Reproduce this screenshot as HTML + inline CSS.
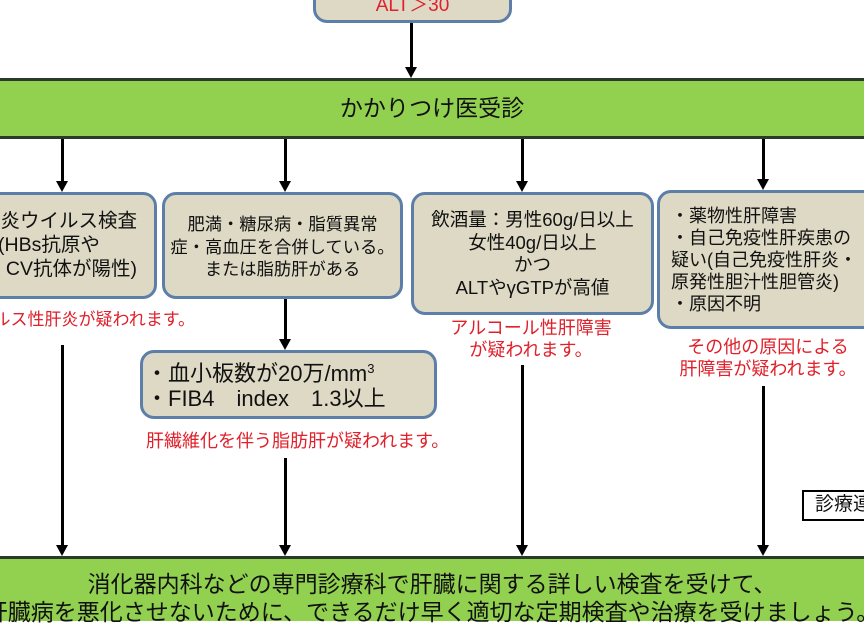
<!DOCTYPE html>
<html><head><meta charset="utf-8"><style>
body{margin:0;width:864px;height:621px;overflow:hidden;background:#fff;position:relative;font-family:"Liberation Sans","Noto Sans CJK JP",sans-serif;}
div{position:absolute;box-sizing:border-box;}
.box{background:#ddd9c4;border:3px solid #5d7ea8;border-radius:14px;}
.t{white-space:nowrap;text-align:center;color:#111;}
.r{color:#e0202a;}
.v{width:3px;background:#000;}
.ah{width:0;height:0;border-left:6px solid transparent;border-right:6px solid transparent;border-top:11px solid #000;}
.g{background:#92d050;left:0;width:864px;}
</style></head><body>
<div class="box" style="left:313px;top:-20px;width:199px;height:43px;"></div>
<div class="t r" style="left:313px;width:199px;top:-6px;font-size:19px;line-height:24px;">ALT＞30</div>
<div class="v" style="left:410px;top:23px;height:45px;"></div><div class="ah" style="left:405px;top:67px;"></div>

<div class="g" style="top:78px;height:61px;border-top:3px solid #2b3b2b;border-bottom:3px solid #2b3b2b;"></div>
<div class="t" style="left:0;width:864px;top:93px;font-size:23px;line-height:30px;">かかりつけ医受診</div>

<div class="v" style="left:61px;top:139px;height:42px;"></div><div class="ah" style="left:56px;top:181px;"></div>
<div class="v" style="left:284px;top:139px;height:42px;"></div><div class="ah" style="left:279px;top:181px;"></div>
<div class="v" style="left:521px;top:139px;height:42px;"></div><div class="ah" style="left:516px;top:181px;"></div>
<div class="v" style="left:762px;top:139px;height:40px;"></div><div class="ah" style="left:757px;top:179px;"></div>

<div class="box" style="left:-60px;top:192px;width:217px;height:107px;"></div>
<div class="t" style="right:727px;top:209px;font-size:19.5px;line-height:24px;">炎ウイルス検査</div>
<div class="t" style="left:-2px;top:233px;font-size:19.5px;line-height:24px;">(HBs抗原や</div>
<div class="t" style="right:727px;top:257px;font-size:19.5px;line-height:24px;">CV抗体が陽性)</div>
<div class="t r" style="right:669px;top:309px;font-size:17px;line-height:22px;">ルス性肝炎が疑われます。</div>

<div class="box" style="left:162px;top:192px;width:241px;height:107px;"></div>
<div class="t" style="left:162px;width:241px;top:213px;font-size:17.3px;line-height:22.5px;">肥満・糖尿病・脂質異常<br>症・高血圧を合併している。<br>または脂肪肝がある</div>
<div class="v" style="left:284px;top:299px;height:41px;"></div><div class="ah" style="left:279px;top:339px;"></div>

<div class="box" style="left:140px;top:350px;width:297px;height:69px;"></div>
<div class="t" style="left:146px;top:361px;font-size:22px;line-height:25px;text-align:left;">・血小板数が20万/mm<sup style="font-size:13px;vertical-align:8px;line-height:0">3</sup><br>・FIB4　index　1.3以上</div>
<div class="t r" style="left:146px;top:430px;font-size:18px;line-height:22px;">肝繊維化を伴う脂肪肝が疑われます。</div>

<div class="box" style="left:411px;top:192px;width:243px;height:123px;"></div>
<div class="t" style="left:411px;width:243px;top:209px;font-size:18.5px;line-height:22.5px;">飲酒量：男性60g/日以上<br>女性40g/日以上<br>かつ<br>ALTやγGTPが高値</div>
<div class="t r" style="left:411px;width:240px;top:317px;font-size:18px;line-height:22px;">アルコール性肝障害<br>が疑われます。</div>

<div class="box" style="left:657px;top:190px;width:220px;height:139px;"></div>
<div class="t" style="left:671px;top:205px;font-size:18px;line-height:22px;text-align:left;">・薬物性肝障害<br>・自己免疫性肝疾患の<br>疑い(自己免疫性肝炎・<br>原発性胆汁性胆管炎)<br>・原因不明</div>
<div class="t r" style="left:660px;width:216px;top:336px;font-size:18px;line-height:22px;">その他の原因による<br>肝障害が疑われます。</div>

<div class="v" style="left:61px;top:345px;height:201px;"></div><div class="ah" style="left:56px;top:545px;"></div>
<div class="v" style="left:284px;top:458px;height:88px;"></div><div class="ah" style="left:279px;top:545px;"></div>
<div class="v" style="left:521px;top:365px;height:181px;"></div><div class="ah" style="left:516px;top:545px;"></div>
<div class="v" style="left:762px;top:386px;height:160px;"></div><div class="ah" style="left:757px;top:545px;"></div>

<div style="left:802px;top:490px;width:80px;height:31px;border:2px solid #000;background:#fff;"></div>
<div class="t" style="left:815px;top:493px;font-size:19px;line-height:24px;text-align:left;">診療連</div>

<div class="g" style="top:556px;height:65px;border-top:3px solid #2b3b2b;"></div>
<div class="t" style="left:0;width:864px;top:570px;font-size:23px;line-height:28px;">消化器内科などの専門診療科で肝臓に関する詳しい検査を受けて、</div>
<div class="t" style="left:-40px;width:944px;top:598px;font-size:23px;line-height:28px;">肝臓病を悪化させないために、できるだけ早く適切な定期検査や治療を受けましょう。</div>
</body></html>
